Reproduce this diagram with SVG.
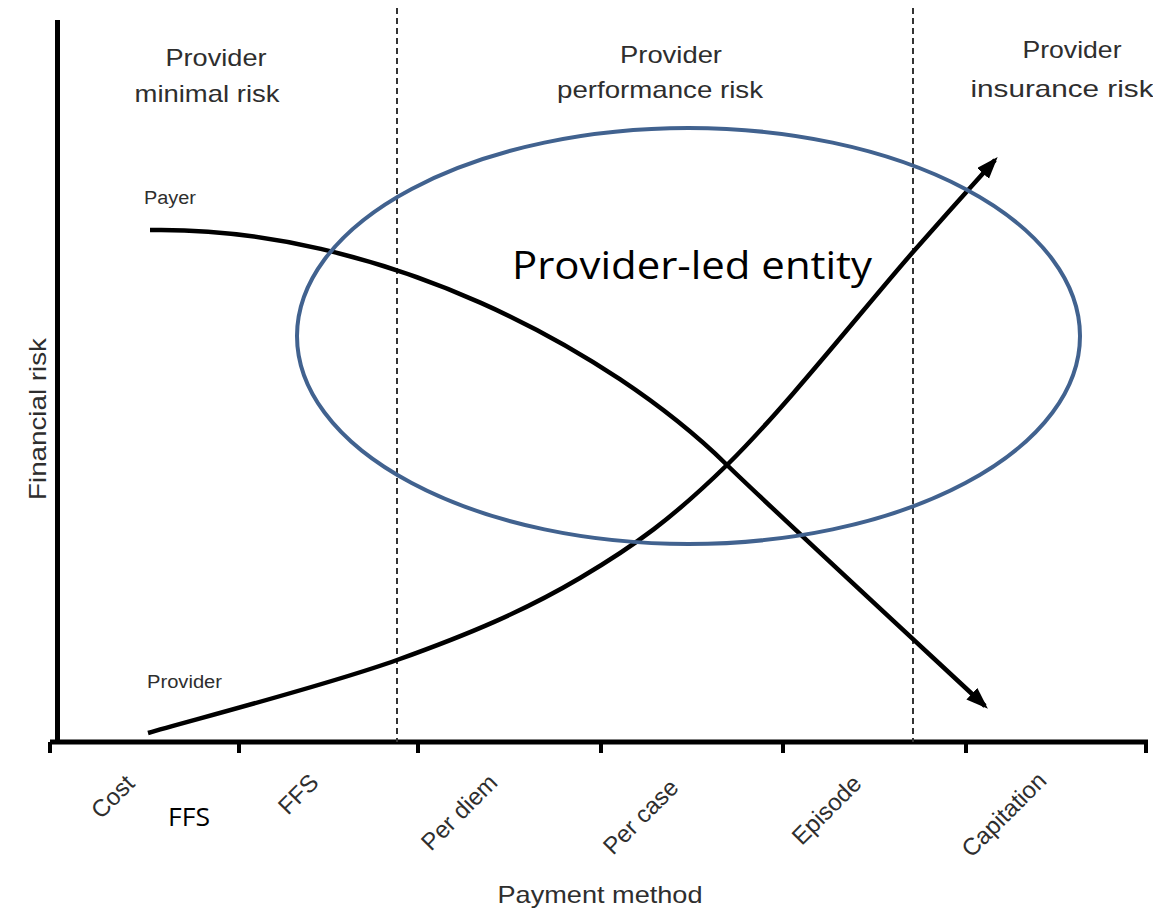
<svg xmlns="http://www.w3.org/2000/svg" width="1153" height="916" viewBox="0 0 1153 916">
<style>
.lbl{font-family:"Liberation Sans",Arial,sans-serif;fill:#2e2e2e;}
.hdr{font-size:24px;text-anchor:middle;}
.tick{font-size:24px;text-anchor:end;}
.small{font-size:18px;}
.axis{stroke:#000;stroke-width:5;fill:none;}
.tk{stroke:#000;stroke-width:4;}
.dash{stroke:#333;stroke-width:2;stroke-dasharray:6 4;fill:none;}
.curve{stroke:#000;stroke-width:4.5;fill:none;marker-end:url(#arr);}
.cal{font-family:"Open Sans","Noto Sans",sans-serif;fill:#000;}
</style>
<defs>
<marker id="arr" markerUnits="userSpaceOnUse" markerWidth="24" markerHeight="18" refX="18" refY="8" orient="auto">
<path d="M0,0 L22,8 L0,16 Z" fill="#000"/>
</marker>
</defs>
<rect width="1153" height="916" fill="#fff"/>
<g id="axes">
<line class="axis" x1="57.5" y1="20" x2="57.5" y2="744"/>
<line class="axis" x1="50" y1="742" x2="1148" y2="742" stroke-width="6"/>
<line class="tk" x1="50" y1="742" x2="50" y2="753"/>
<line class="tk" x1="239" y1="742" x2="239" y2="753"/>
<line class="tk" x1="418" y1="742" x2="418" y2="753"/>
<line class="tk" x1="601" y1="742" x2="601" y2="753"/>
<line class="tk" x1="783" y1="742" x2="783" y2="753"/>
<line class="tk" x1="966" y1="742" x2="966" y2="753"/>
<line class="tk" x1="1146" y1="742" x2="1146" y2="753"/>
</g>
<g id="dividers">
<line class="dash" x1="397" y1="8" x2="397" y2="742"/>
<line class="dash" x1="913" y1="8" x2="913" y2="742"/>
</g>
<g id="region-labels">
<text class="lbl hdr" x="216" y="66" textLength="101" lengthAdjust="spacingAndGlyphs">Provider</text>
<text class="lbl hdr" x="207" y="102" textLength="145" lengthAdjust="spacingAndGlyphs">minimal risk</text>
<text class="lbl hdr" x="671" y="63" textLength="102" lengthAdjust="spacingAndGlyphs">Provider</text>
<text class="lbl hdr" x="660" y="98" textLength="206" lengthAdjust="spacingAndGlyphs">performance risk</text>
<text class="lbl hdr" x="1072" y="58" textLength="99" lengthAdjust="spacingAndGlyphs">Provider</text>
<text class="lbl hdr" x="1062" y="97" textLength="183" lengthAdjust="spacingAndGlyphs">insurance risk</text>
</g>
<g id="axis-titles">
<text class="lbl" font-size="24" text-anchor="middle" transform="translate(46,419) rotate(-90)" textLength="162" lengthAdjust="spacingAndGlyphs">Financial risk</text>
<text class="lbl" font-size="24" text-anchor="middle" x="600" y="903" textLength="205" lengthAdjust="spacingAndGlyphs">Payment method</text>
</g>
<g id="category-labels">
<text class="lbl tick" transform="translate(136,785) rotate(-45)">Cost</text>
<text class="lbl tick" transform="translate(320,784) rotate(-45)">FFS</text>
<text class="lbl tick" transform="translate(499,784) rotate(-45)">Per diem</text>
<text class="lbl tick" transform="translate(680,789) rotate(-45)">Per case</text>
<text class="lbl tick" transform="translate(863,785) rotate(-45)">Episode</text>
<text class="lbl tick" transform="translate(1048,782) rotate(-45)">Capitation</text>
<text class="cal" x="168" y="826" font-size="25" textLength="42" lengthAdjust="spacingAndGlyphs">FFS</text>
</g>
<g id="connectors">
<path id="payer-curve" class="curve" d="M150,230 C380,226 610,350 727,465 C770,507 940,664 985,706"/>
<path id="provider-curve" class="curve" d="M148,733 C189.5,720.8 325,685.8 397,660 C469,634.2 524.8,610.7 580,578 C635.2,545.3 672.5,518.3 728,464 C783.5,409.7 868.5,302.7 913,252 C957.5,201.3 981.3,175.3 995,160"/>
</g>
<g id="curve-labels">
<text class="lbl small" x="144" y="204" textLength="52" lengthAdjust="spacingAndGlyphs">Payer</text>
<text class="lbl small" x="147" y="688" textLength="75" lengthAdjust="spacingAndGlyphs">Provider</text>
</g>
<g id="provider-led-entity">
<ellipse cx="688.5" cy="336" rx="391.5" ry="208" fill="none" stroke="#41628f" stroke-width="4"/>
<text class="cal" x="512" y="279" font-size="39" textLength="360" lengthAdjust="spacingAndGlyphs">Provider-led entity</text>
</g>
</svg>
